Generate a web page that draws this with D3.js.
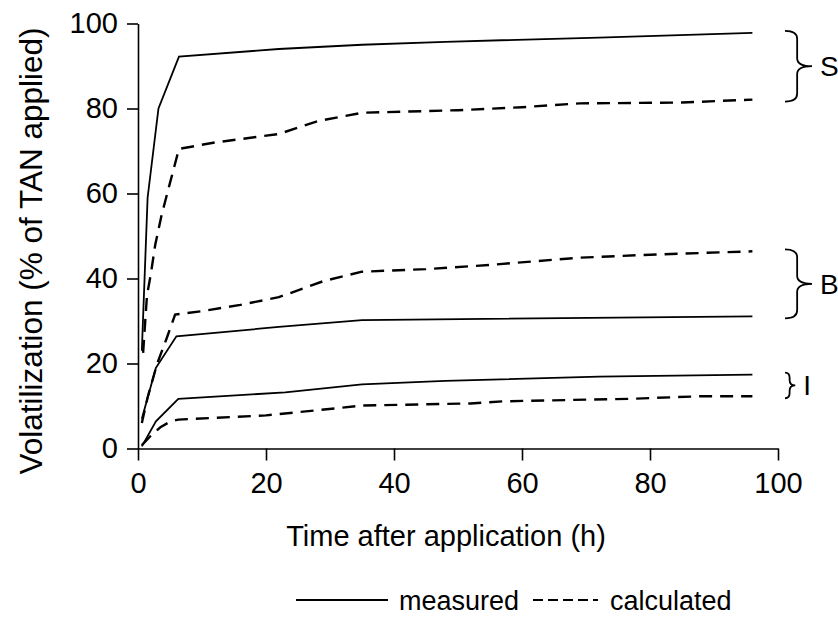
<!DOCTYPE html>
<html>
<head>
<meta charset="utf-8">
<script src="https://cdn.jsdelivr.net/npm/d3@7"></script>
<style>
  body { margin: 0; background: #fff; }
  svg text { font-family: "Liberation Sans", Arial, sans-serif; fill: #000; }
</style>
</head>
<body>
<svg id="chart" width="838" height="618"></svg>
<script>
// cumulative NH3 volatilization, [hours, % of TAN]
var measuredS = [[0.6, 23], [1.5, 59], [3.2, 80], [6.4, 92.2], [22, 94], [35, 95], [48, 95.7], [72, 96.7], [96, 97.8]];
var calculatedS = [[0.8, 22.5], [1.4, 36], [2.0, 41], [2.7, 48], [3.7, 55], [5, 62.5], [6.4, 70.5], [12, 72], [22, 74], [28, 77], [35, 79], [50, 79.6], [60, 80.3], [69, 81.2], [85, 81.4], [96, 82.1]];
var measuredB = [[0.6, 7], [2.8, 19], [6, 26.4], [22, 28.6], [35, 30.2], [96, 31.1]];
var calculatedB = [[0.6, 6], [1.5, 12], [3, 20], [4.5, 26], [5.8, 31.5], [10, 32.3], [16, 33.8], [22, 35.6], [29, 39.4], [35, 41.6], [45, 42.2], [55, 43.2], [69, 44.9], [80, 45.6], [96, 46.4]];
var measuredI = [[0.6, 0.5], [2.8, 6.4], [6.3, 11.7], [23, 13.2], [35, 15.1], [48, 15.9], [72, 16.9], [96, 17.4]];
var calculatedI = [[0.6, 0.8], [2, 3], [3.5, 5], [5, 6.3], [6.3, 6.8], [20, 7.8], [28, 9], [35, 10.1], [52, 10.6], [57, 11.1], [77, 11.7], [88, 12.3], [96, 12.3]];

var xTicks = [0, 20, 40, 60, 80, 100];
var yTicks = [0, 20, 40, 60, 80, 100];
var groups = ["S", "B", "I"];

var svg = d3.select("#chart"),
  margin = { top: 23.5, left: 138 },
  width = 640,
  height = 425;

var x = d3.scaleLinear().domain([0, 100]).range([0, width]);
var y = d3.scaleLinear().domain([0, 100]).range([height, 0]);

var g = svg.append("g")
  .attr("transform", "translate(" + margin.left + "," + margin.top + ")");

var line = d3.line()
  .x(function (d) { return x(d[0]); })
  .y(function (d) { return y(d[1]); });

// axes
var xAxis = d3.axisBottom(x).tickValues(xTicks).tickSize(12).tickSizeOuter(0).tickPadding(12);
var yAxis = d3.axisLeft(y).tickValues(yTicks).tickSize(11).tickSizeOuter(0).tickPadding(9);

g.append("g")
  .attr("class", "axis")
  .attr("transform", "translate(0," + height + ")")
  .call(xAxis);

g.append("g")
  .attr("class", "axis")
  .call(yAxis);

g.selectAll(".axis path, .axis line")
  .attr("stroke", "#000")
  .attr("stroke-width", 1.6);
g.selectAll(".axis text")
  .attr("font-size", 29)
  .attr("fill", "#000");

// series
var measured = [measuredS, measuredB, measuredI];
var calculated = [calculatedS, calculatedB, calculatedI];

g.selectAll(".measured")
  .data(measured)
  .enter().append("path")
  .attr("class", "measured")
  .attr("d", line)
  .attr("fill", "none")
  .attr("stroke", "#000")
  .attr("stroke-width", 1.8);

g.selectAll(".calculated")
  .data(calculated)
  .enter().append("path")
  .attr("class", "calculated")
  .attr("d", line)
  .attr("fill", "none")
  .attr("stroke", "#000")
  .attr("stroke-width", 2.4)
  .attr("stroke-dasharray", "13,8");

// braces grouping each pair of curves at 96 h
function brace(x0, y0, y1) {
  var h = y1 - y0,
    w = Math.min(27, h * 0.4),
    xm = x0 + w * 0.45,
    xt = x0 + w,
    mid = (y0 + y1) / 2,
    r = Math.min(8, h * 0.2);
  return "M" + x0 + "," + y0 +
    "Q" + xm + "," + y0 + " " + xm + "," + (y0 + r) +
    "L" + xm + "," + (mid - r) +
    "Q" + xm + "," + mid + " " + xt + "," + mid +
    "Q" + xm + "," + mid + " " + xm + "," + (mid + r) +
    "L" + xm + "," + (y1 - r) +
    "Q" + xm + "," + y1 + " " + x0 + "," + y1;
}

var braceX = x(100) + 7;
groups.forEach(function (name, i) {
  var a = measured[i][measured[i].length - 1][1],
    b = calculated[i][calculated[i].length - 1][1],
    top = y(Math.max(a, b)) - 2,
    bottom = y(Math.min(a, b)) + 2;
  var h = bottom - top, w = Math.min(27, h * 0.4);
  g.append("path")
    .attr("d", brace(braceX, top, bottom))
    .attr("fill", "none")
    .attr("stroke", "#000")
    .attr("stroke-width", 1.8);
  g.append("text")
    .attr("x", braceX + w + 8)
    .attr("y", (top + bottom) / 2)
    .attr("dy", "0.36em")
    .attr("font-size", 28)
    .text(name);
});

// axis titles
svg.append("text")
  .attr("x", 446)
  .attr("y", 546)
  .attr("text-anchor", "middle")
  .attr("font-size", 29)
  .text("Time after application (h)");

svg.append("text")
  .attr("transform", "translate(31,251) rotate(-90)")
  .attr("text-anchor", "middle")
  .attr("dy", "0.36em")
  .attr("font-size", 31.5)
  .text("Volatilization (% of TAN applied)");

// legend
var legend = svg.append("g").attr("transform", "translate(0,600)");
legend.append("line")
  .attr("x1", 296).attr("x2", 388).attr("y1", 0).attr("y2", 0)
  .attr("stroke", "#000").attr("stroke-width", 1.8);
legend.append("text")
  .attr("x", 399).attr("dy", "0.36em").attr("font-size", 27)
  .text("measured");
legend.append("line")
  .attr("x1", 533).attr("x2", 598).attr("y1", 0).attr("y2", 0)
  .attr("stroke", "#000").attr("stroke-width", 1.8)
  .attr("stroke-dasharray", "10,5");
legend.append("text")
  .attr("x", 610).attr("dy", "0.36em").attr("font-size", 27)
  .text("calculated");
</script>
</body>
</html>
